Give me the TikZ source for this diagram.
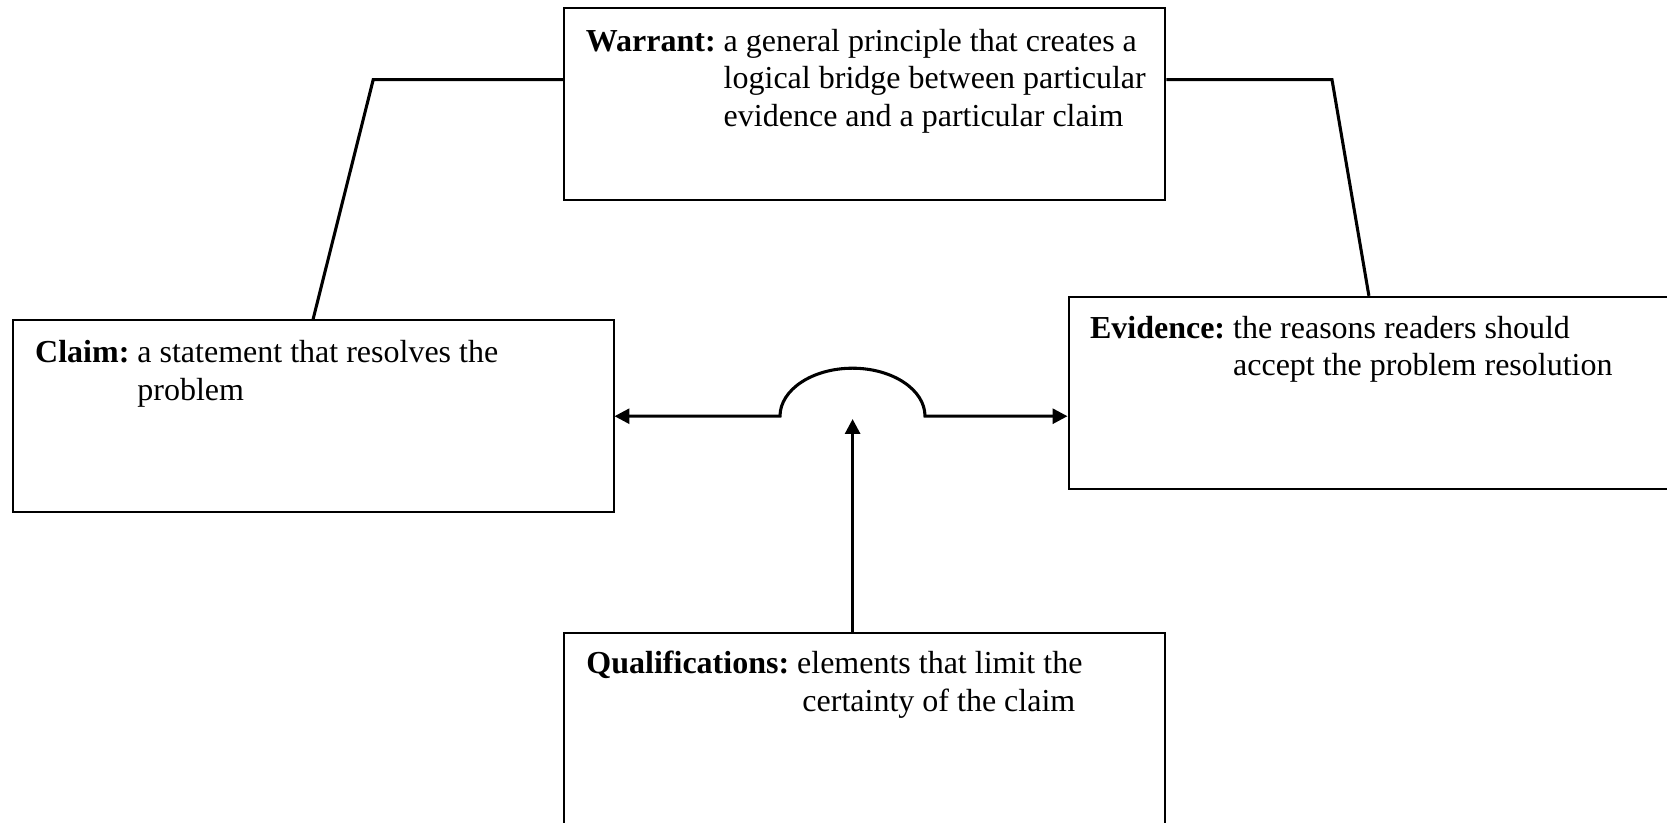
\documentclass[tikz,border=0pt]{standalone}
\usepackage{fontspec}
\setmainfont{Liberation Serif}
\usetikzlibrary{arrows.meta,calc}
\begin{document}
\begin{tikzpicture}[x=0.375pt,y=-0.375pt,
  box/.style={draw, line width=0.75pt, minimum width=225.3pt, minimum height=72pt, inner sep=0pt},
  txt/.style={anchor=base west, inner sep=0pt, font=\fontsize{12}{14.1}\selectfont},
  conn/.style={line width=1.15pt},
  >={Triangle[length=5.6pt,width=5.6pt]}]
\useasboundingbox (0,0) rectangle (1667,822);
% boxes
\node[box] (warrant) at (864.85,104.2) {};
\node[box] (claim) at (313.1,416.2) {};
\node[box] (evidence) at (1368.9,392.8) {};
\node[box] (qual) at (864.85,728.5) {};
% texts
\node[txt] (wt) at ($(warrant.north west)+(22,44)$) {\begin{tabular}[t]{@{}l@{\ }l@{}}\textbf{Warrant:} & a general principle that creates a\\ & logical bridge between particular\\ & evidence and a particular claim\end{tabular}};
\node[txt] (ct) at ($(claim.north west)+(23,43.5)$) {\begin{tabular}[t]{@{}l@{\ }l@{}}\textbf{Claim:} & a statement that resolves the\\ & problem\end{tabular}};
\node[txt] (et) at ($(evidence.north west)+(22,42.5)$) {\begin{tabular}[t]{@{}l@{\ }l@{}}\textbf{Evidence:} & the reasons readers should\\ & accept the problem resolution\end{tabular}};
\node[txt] (qt) at ($(qual.north west)+(22.5,42)$) {\begin{tabular}[t]{@{}l@{\ }l@{}}\textbf{Qualifications:} & elements that limit the\\ & \hspace{2pt}certainty of the claim\end{tabular}};
% connectors
\coordinate (lk) at (373.2,79.7);
\coordinate (rk) at (1332,79.7);
\draw[conn] (claim.north) -- (lk) -- (lk -| warrant.west);
\draw[conn] (rk -| warrant.east) -- (rk) -- (evidence.north);
\coordinate (arcL) at (780,416.2);
\draw[conn, <->] (claim.east) -- (arcL)
  arc[start angle=180, end angle=360, x radius=72.5, y radius=48]
  -- (arcL -| evidence.west);
\coordinate (qtip) at (852.6,419);
\draw[conn, ->] (qtip |- qual.north) -- (qtip);
\end{tikzpicture}
\end{document}
